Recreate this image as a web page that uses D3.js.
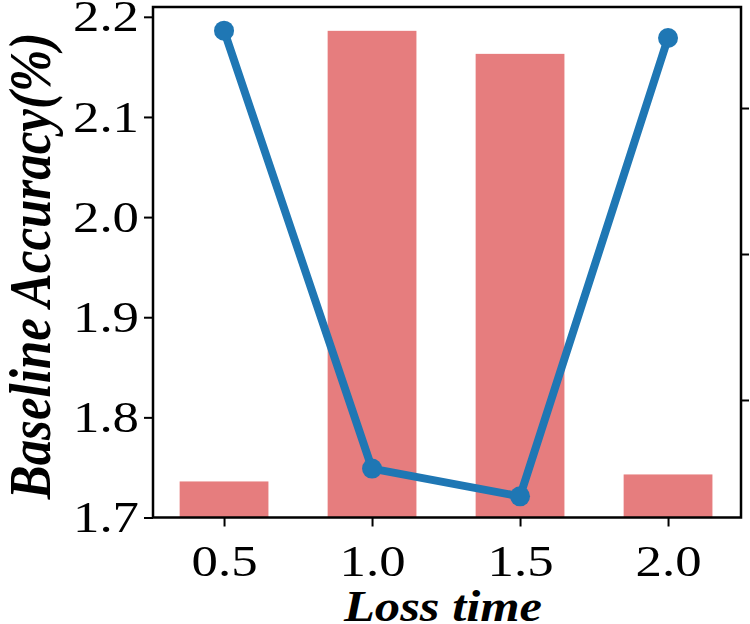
<!DOCTYPE html>
<html>
<head>
<meta charset="utf-8">
<script src="https://cdn.jsdelivr.net/npm/d3@7"></script>
<style>
  body { margin: 0; background: #fff; }
  svg { display: block; }
</style>
</head>
<body>
<svg width="750" height="624"></svg>
<script>
"use strict";

// x categories (loss time)
const lossTimes = ["0.5", "1.0", "1.5", "2.0"];
// bars: baseline accuracy, left axis
const accuracy = [1.736, 2.186, 2.163, 1.743];
// line: right axis (its labels fall outside the picture)
const lineValues = [3.53, 0.53, 0.34, 3.48];
const leftTicks = [1.7, 1.8, 1.9, 2.0, 2.1, 2.2];
const rightTicks = [1, 2, 3];

const svg = d3.select("svg");
const plotLeft = 153, plotRight = 741, plotTop = 7, plotBottom = 517.5;
const serif = "'Liberation Serif', 'Times New Roman', serif";
const stretch = 1.2; // the source picture is a bit wider than tall

const x = d3.scaleLinear().domain([-0.48, 3.493]).range([plotLeft, plotRight]);
const y = d3.scaleLinear().domain([1.7, 2.2098]).range([plotBottom, plotTop]);
const y2 = d3.scaleLinear().domain([0.195, 3.692]).range([plotBottom, plotTop]);

// bars
svg.append("g").selectAll("rect")
    .data(accuracy)
    .join("rect")
    .attr("x", (d, i) => x(i - 0.3))
    .attr("width", (d, i) => x(i + 0.3) - x(i - 0.3))
    .attr("y", d => y(d))
    .attr("height", d => plotBottom - y(d))
    .attr("fill", "rgb(230,125,126)");

// line
const line = d3.line()
    .x((d, i) => x(i))
    .y(d => y2(d));

svg.append("path")
    .datum(lineValues)
    .attr("d", line)
    .attr("fill", "none")
    .attr("stroke", "#1f77b4")
    .attr("stroke-width", 8)
    .attr("stroke-linejoin", "round");

svg.append("g").selectAll("circle")
    .data(lineValues)
    .join("circle")
    .attr("cx", (d, i) => x(i))
    .attr("cy", d => y2(d))
    .attr("r", 10)
    .attr("fill", "#1f77b4");

// axes
const xAxis = svg.append("g")
    .attr("transform", `translate(0,${plotBottom})`)
    .call(d3.axisBottom(x).tickValues([0, 1, 2, 3])
        .tickFormat(i => lossTimes[i]).tickSize(9).tickPadding(18));

const yAxis = svg.append("g")
    .attr("transform", `translate(${plotLeft},0)`)
    .call(d3.axisLeft(y).tickValues(leftTicks)
        .tickFormat(d3.format(".1f")).tickSize(9).tickPadding(5));

const y2Axis = svg.append("g")
    .attr("transform", `translate(${plotRight},0)`)
    .call(d3.axisRight(y2).tickValues(rightTicks).tickFormat("").tickSize(8));

[xAxis, yAxis, y2Axis].forEach(a => {
    a.select(".domain").remove();
    a.selectAll(".tick line").attr("stroke", "#000").attr("stroke-width", 2);
    a.selectAll("text")
        .attr("font-family", serif)
        .attr("font-size", 44)
        .attr("fill", "#000")
        .attr("transform", `scale(${stretch},1)`);
});
xAxis.selectAll("text").attr("dy", "0.71em");
yAxis.selectAll("text").attr("x", -14 / stretch);

// frame
svg.append("rect")
    .attr("x", plotLeft).attr("y", plotTop)
    .attr("width", plotRight - plotLeft).attr("height", plotBottom - plotTop)
    .attr("fill", "none")
    .attr("stroke", "#000")
    .attr("stroke-width", 2.5);

// axis titles
svg.append("text")
    .attr("font-family", serif)
    .attr("font-size", 51)
    .attr("font-weight", "bold")
    .attr("font-style", "italic")
    .attr("text-anchor", "middle")
    .attr("transform", `translate(50,266) scale(1.15,1) rotate(-90)`)
    .text("Baseline Accuracy(%)");

svg.append("text")
    .attr("font-family", serif)
    .attr("font-size", 44)
    .attr("font-weight", "bold")
    .attr("font-style", "italic")
    .attr("text-anchor", "middle")
    .attr("transform", `translate(${(plotLeft + plotRight) / 2 - 4},621) scale(1.15,1)`)
    .text("Loss time");
</script>
</body>
</html>
